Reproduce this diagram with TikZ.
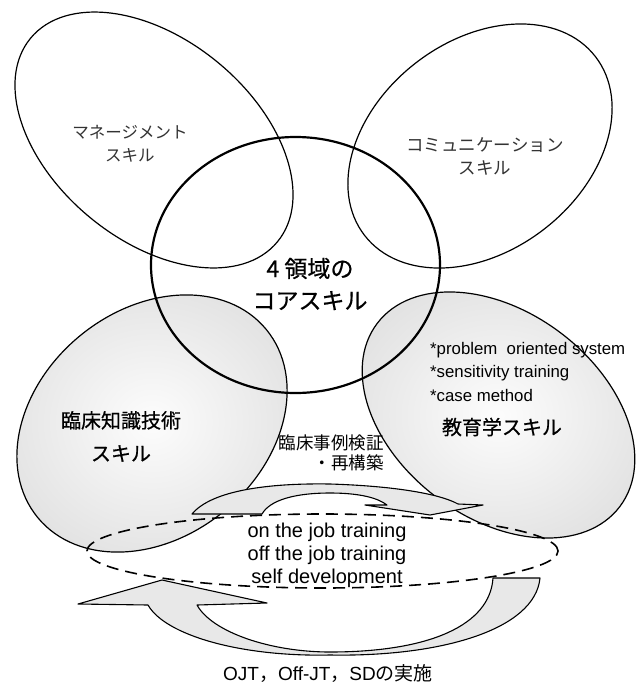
\documentclass[tikz,border=0pt]{standalone}
\usepackage{fontspec}
\setmainfont{Liberation Sans}
\newfontfamily\jp{Noto Sans CJK JP}
\newfontfamily\jpm[FakeBold=0.6]{Noto Sans CJK JP}
\usetikzlibrary{shapes.geometric}
\begin{document}
\begin{tikzpicture}[x=1pt,y=1pt,
  thinell/.style={ellipse, draw, line width=1.2pt, inner sep=0pt},
  grayell/.style={thinell, inner color=black!1, outer color=black!11},
  coreell/.style={ellipse, draw, line width=2.2pt, inner sep=0pt},
  dashell/.style={ellipse, draw, line width=1.6pt, inner sep=0pt, dash pattern=on 12pt off 7pt},
  arrowband/.style={draw, line width=1.1pt, fill=black!9, line join=round},
  jtext/.style={font=\jp\fontsize{#1}{23}\selectfont, align=center, inner sep=0pt},
  mtext/.style={font=\jpm\fontsize{#1}{33}\selectfont, align=center, inner sep=0pt}
]
\useasboundingbox (0,0) rectangle (641,-686);

% gray filled ellipses
\node[grayell, minimum width=296pt, minimum height=227pt, rotate=39.5] (clin) at (152,-423.5) {};
\node[grayell, minimum width=304pt, minimum height=206pt, rotate=-37] (edu) at (498.5,-415) {};

% top thin ellipses
\node[thinell, minimum width=320pt, minimum height=201pt, rotate=-39.5] (mgmt) at (154,-140) {};
\node[thinell, minimum width=292pt, minimum height=210pt, rotate=37.8] (comm) at (480,-146) {};

% core circle
\node[coreell, minimum width=289pt, minimum height=256pt] (core) at (295.5,-265) {};

% upper curved arrow
\draw[arrowband] (192,-514) .. controls (212,-490) and (270,-483) .. (330,-484)
  .. controls (395,-486) and (440,-494) .. (458,-504) -- (483,-505) -- (430,-515)
  -- (365,-505) -- (387,-505) .. controls (378,-498) and (360,-493) .. (330,-493)
  .. controls (295,-493) and (270,-500) .. (262,-514) -- cycle;

% lower curved arrow
\draw[arrowband] (493,-578) -- (540,-578) .. controls (535,-630) and (440,-657) .. (330,-655)
  .. controls (240,-657) and (165,-635) .. (148,-605) -- (78,-604) -- (162,-580)
  -- (267,-603) -- (197,-605) .. controls (212,-632) and (270,-652) .. (330,-652)
  .. controls (430,-652) and (490,-625) .. (493,-578) -- cycle;

% dashed ellipse
\node[dashell, minimum width=471pt, minimum height=74pt] (dash) at (322.5,-551) {};

% labels
\node[jtext=16.5, text=black!80] (tmgmt) at (130,-143.5) {マネージメント\\スキル};
\node[jtext=17.5, text=black!80] (tcomm) at (485,-156.5) {コミュニケーション\\スキル};
\node[font=\jpm\fontsize{23}{32}\selectfont, align=center, inner sep=0pt] (tcore) at (310,-284) {4 領域の\\コアスキル};
\node[mtext=20] (tclin) at (121,-436.5) {臨床知識技術\\スキル};
\node[font=\fontsize{16.8}{23.5}\selectfont, align=left, inner sep=0pt, anchor=west] (tlist) at (430,-371.5)
  {*problem\hspace{0.55em}oriented system\\*sensitivity training\\*case method};
\node[mtext=20] (tedu) at (502,-427) {教育学スキル};
\node[font=\jp\fontsize{17.5}{20}\selectfont, align=right, inner sep=0pt] (tcase) at (331,-452.5) {臨床事例検証\\・再構築};
\node[font=\fontsize{20}{23}\selectfont, align=center, inner sep=0pt] (ttrain) at (327,-555) {on the job training\\off the job training\\self development};
\node[font=\fontsize{19}{23}\selectfont, inner sep=0pt] (tojt) at (328,-674) {OJT{\jp ，}Off-JT{\jp ，}SD{\jp の実施}};
\end{tikzpicture}
\end{document}
